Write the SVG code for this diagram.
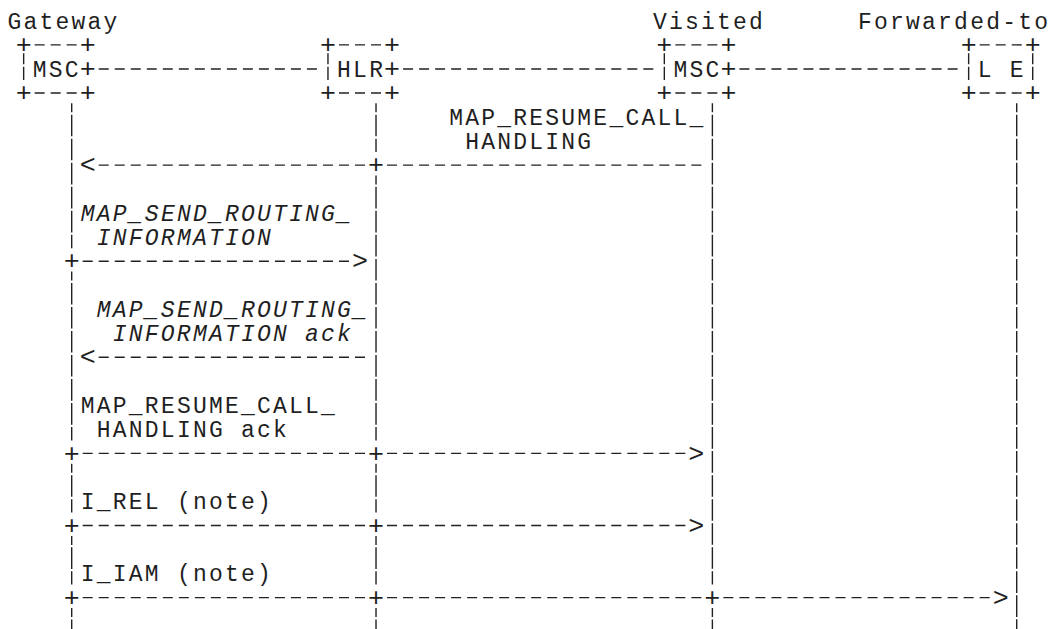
<svg xmlns="http://www.w3.org/2000/svg" width="1050" height="629" viewBox="0 0 1050 629" xml:space="preserve">
<style>
text { font-family: "Liberation Mono", "DejaVu Sans Mono", monospace; fill: #1f1f1f; }
.t { font-size: 23px; letter-spacing: 2.217px; white-space: pre; }
.i { font-style: italic; }
.s { font-size: 26.7px; letter-spacing: 0px; }
.d { stroke: #222; stroke-width: 1.4; stroke-dasharray: 10 6.017; fill: none; }
.b { stroke: #222; stroke-width: 1.4; fill: none; }
.l { stroke: #222; stroke-width: 1.4; stroke-dasharray: 21.63 2.4; stroke-dashoffset: 12.63; fill: none; }
</style>
<rect x="0" y="0" width="1050" height="629" fill="#ffffff"/>
<g id="node-gateway-msc">
<line class="d" x1="34.66" y1="44.9" x2="76.7" y2="44.9"/>
<line class="d" x1="34.66" y1="93" x2="76.7" y2="93"/>
<path class="b" d="M23.65 53.3V64.3M23.65 66.7V80"/>
<text class="t" x="7.5" y="28.5">Gateway<tspan class="s" x="15.64 79.71" y="53">++</tspan><tspan class="s" x="79.71" y="77.1">+</tspan><tspan class="s" x="15.64 79.71" y="101.1">++</tspan><tspan x="32.7" y="76.6">MSC</tspan></text>
</g>
<g id="node-hlr">
<line class="d" x1="338.99" y1="44.9" x2="381.02" y2="44.9"/>
<line class="d" x1="338.99" y1="93" x2="381.02" y2="93"/>
<path class="b" d="M327.97 53.3V64.3M327.97 66.7V80"/>
<text class="t" x="337.1" y="76.6">HLR<tspan class="s" x="319.96 384.03" y="53">++</tspan><tspan class="s" x="384.03" y="77.1">+</tspan><tspan class="s" x="319.96 384.03" y="101.1">++</tspan></text>
</g>
<g id="node-visited-msc">
<line class="d" x1="675.34" y1="44.9" x2="717.38" y2="44.9"/>
<line class="d" x1="675.34" y1="93" x2="717.38" y2="93"/>
<path class="b" d="M664.33 53.3V64.3M664.33 66.7V80"/>
<text class="t" x="653" y="28.5">Visited<tspan class="s" x="656.32 720.39" y="53">++</tspan><tspan class="s" x="720.39" y="77.1">+</tspan><tspan class="s" x="656.32 720.39" y="101.1">++</tspan><tspan x="673.4" y="76.6">MSC</tspan></text>
</g>
<g id="node-forwarded-to-le">
<line class="d" x1="979.67" y1="44.9" x2="1021.7" y2="44.9"/>
<line class="d" x1="979.67" y1="93" x2="1021.7" y2="93"/>
<path class="b" d="M968.65 53.3V64.3M968.65 66.7V80M1032.72 53.3V64.3M1032.72 66.7V80"/>
<text class="t" x="858" y="28.5">Forwarded-to<tspan class="s" x="960.64 1024.71" y="53">++</tspan><tspan class="s" x="960.64 1024.71" y="101.1">++</tspan><tspan x="977.7" y="76.6">L E</tspan></text>
</g>
<g id="connectors">
<g id="links">
<line class="d" x1="98.73" y1="69" x2="316.95" y2="69"/>
<line class="d" x1="403.06" y1="69" x2="653.31" y2="69"/>
<line class="d" x1="739.41" y1="69" x2="957.63" y2="69"/>
</g>
<g id="lifelines">
<line class="l" x1="71.7" y1="103.3" x2="71.7" y2="248.2"/>
<line class="l" x1="71.7" y1="271.5" x2="71.7" y2="440.4"/>
<line class="l" x1="71.7" y1="463.8" x2="71.7" y2="512.5"/>
<line class="l" x1="71.7" y1="535.9" x2="71.7" y2="584.6"/>
<line class="l" x1="71.7" y1="608" x2="71.7" y2="632.7"/>
<line class="l" x1="376.02" y1="103.3" x2="376.02" y2="152.1"/>
<line class="l" x1="376.02" y1="175.4" x2="376.02" y2="440.4"/>
<line class="l" x1="376.02" y1="463.8" x2="376.02" y2="512.5"/>
<line class="l" x1="376.02" y1="535.9" x2="376.02" y2="584.6"/>
<line class="l" x1="376.02" y1="608" x2="376.02" y2="632.7"/>
<line class="l" x1="712.38" y1="103.3" x2="712.38" y2="584.6"/>
<line class="l" x1="712.38" y1="608" x2="712.38" y2="632.7"/>
<line class="l" x1="1016.7" y1="103.3" x2="1016.7" y2="632.7"/>
</g>
<g id="msg-resume-call-handling">
<line class="d" x1="98.73" y1="165.1" x2="365" y2="165.1"/>
<line class="d" x1="387.04" y1="165.1" x2="701.36" y2="165.1"/>
<text class="t" x="449.2" y="124.6">MAP_RESUME_CALL_<tspan x="465.2" y="148.7">HANDLING</tspan><tspan class="s" x="79.71 368.01" y="173.2">&lt;+</tspan></text>
</g>
<g id="msg-send-routing-information">
<line class="d" x1="82.72" y1="261.2" x2="348.99" y2="261.2"/>
<text class="t i" x="80.8" y="220.7">MAP_SEND_ROUTING_<tspan x="96.8" y="244.8">INFORMATION</tspan><tspan class="s" style="font-style:normal" x="63.69 351.99" y="269.3">+&gt;</tspan></text>
</g>
<g id="msg-send-routing-information-ack">
<line class="d" x1="98.73" y1="357.3" x2="365" y2="357.3"/>
<text class="t i" x="96.8" y="316.9">MAP_SEND_ROUTING_<tspan x="112.8" y="340.9">INFORMATION ack</tspan><tspan class="s" style="font-style:normal" x="79.71" y="365.4">&lt;</tspan></text>
</g>
<g id="msg-resume-call-handling-ack">
<line class="d" x1="82.72" y1="453.4" x2="365" y2="453.4"/>
<line class="d" x1="387.04" y1="453.4" x2="685.34" y2="453.4"/>
<text class="t" x="80.8" y="413">MAP_RESUME_CALL_<tspan x="96.8" y="437">HANDLING ack</tspan><tspan class="s" x="63.69 368.01 688.35" y="461.5">++&gt;</tspan></text>
</g>
<g id="msg-i-rel">
<line class="d" x1="82.72" y1="525.5" x2="365" y2="525.5"/>
<line class="d" x1="387.04" y1="525.5" x2="685.34" y2="525.5"/>
<text class="t" x="80.8" y="509.1">I_REL (note)<tspan class="s" x="63.69 368.01 688.35" y="533.6">++&gt;</tspan></text>
</g>
<g id="msg-i-iam">
<line class="d" x1="82.72" y1="597.6" x2="365" y2="597.6"/>
<line class="d" x1="387.04" y1="597.6" x2="701.36" y2="597.6"/>
<line class="d" x1="723.4" y1="597.6" x2="989.67" y2="597.6"/>
<text class="t" x="80.8" y="581.2">I_IAM (note)<tspan class="s" x="63.69 368.01 704.37 992.67" y="605.7">+++&gt;</tspan></text>
</g>
</g>
</svg>
